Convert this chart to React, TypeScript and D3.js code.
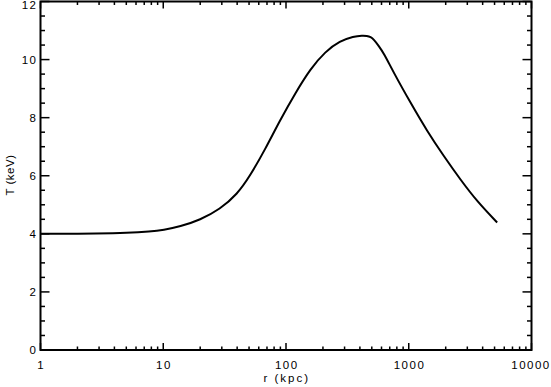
import React from "react";
import * as d3 from "d3";

const rKpc = [1, 3.16, 5, 7.9, 10, 13.7, 20, 29, 40, 51, 67.5, 89, 120, 158, 209, 275, 355, 420, 455, 490, 519, 570, 626, 756, 1034, 1414, 1932, 2642, 3611, 5250];
const tKeV = [4.0, 4.01, 4.03, 4.08, 4.13, 4.25, 4.48, 4.85, 5.36, 6.0, 6.9, 7.9, 8.87, 9.68, 10.28, 10.64, 10.8, 10.83, 10.82, 10.78, 10.69, 10.47, 10.22, 9.54, 8.51, 7.53, 6.67, 5.86, 5.11, 4.39];

const xMajor = [1, 10, 100, 1000, 10000];
const xLabels = ["1", "10", "100", "1000", "10000"];
const yMajor = [0, 2, 4, 6, 8, 10, 12];
const yLabels = ["0", "2", "4", "6", "8", "10", "12"];

const W = 551, H = 387;
const L = 40.5, R = 531.5, T = 1.5, B = 350;

export default function App() {
  const x = d3.scaleLog().domain([1, 10000]).range([L, R]);
  const y = d3.scaleLinear().domain([0, 12]).range([B, T]);
  const xMinor: number[] = [];
  for (let d = 1; d < 10000; d *= 10) for (let k = 2; k <= 9; k++) xMinor.push(d * k);
  const yMinor: number[] = [];
  for (let v = 0.5; v < 12; v += 0.5) if (v % 2 !== 0) yMinor.push(v);
  const line = d3.line<number>().x((_, i) => x(rKpc[i])).y((d) => y(d)).curve(d3.curveBasis);
  const font = "'Liberation Sans', Arial, Helvetica, sans-serif";
  const ls = 1.5;
  return (
    <svg width={W} height={H} style={{ display: "block", position: "absolute", left: 0, top: 0, background: "#fff" }}>
      <style>{`body{margin:0}`}</style>
      <g stroke="#000" strokeWidth={1.5}>
        {xMajor.map((v) => (
          <g key={"xM" + v}>
            <line x1={x(v)} x2={x(v)} y1={B} y2={B - 7} />
            <line x1={x(v)} x2={x(v)} y1={T} y2={T + 7} />
          </g>
        ))}
        {xMinor.map((v) => (
          <g key={"xm" + v}>
            <line x1={x(v)} x2={x(v)} y1={B} y2={B - 3.5} />
            <line x1={x(v)} x2={x(v)} y1={T} y2={T + 3.5} />
          </g>
        ))}
        {yMajor.map((v) => (
          <g key={"yM" + v}>
            <line x1={L} x2={L + 9} y1={y(v)} y2={y(v)} />
            <line x1={R} x2={R - 9} y1={y(v)} y2={y(v)} />
          </g>
        ))}
        {yMinor.map((v) => (
          <g key={"ym" + v}>
            <line x1={L} x2={L + 4.5} y1={y(v)} y2={y(v)} />
            <line x1={R} x2={R - 4.5} y1={y(v)} y2={y(v)} />
          </g>
        ))}
      </g>
      <rect x={L} y={T} width={R - L} height={B - T} fill="none" stroke="#000" strokeWidth={2} />
      <path d={line(tKeV) || ""} fill="none" stroke="#000" strokeWidth={2} strokeLinejoin="round" />
      <g fontFamily={font} fontSize={11.5} fill="#000">
        {xMajor.map((v, i) => (
          <text key={"xl" + v} x={Math.min(x(v) + ls / 2, W - 20)} y={368.5} textAnchor="middle" letterSpacing={ls}>{xLabels[i]}</text>
        ))}
        {yMajor.map((v, i) => (
          <text key={"yl" + v} x={36 + ls} y={Math.max(y(v) + 4, 9)} textAnchor="end" letterSpacing={ls}>{yLabels[i]}</text>
        ))}
        <text x={(L + R) / 2 + ls / 2} y={382} textAnchor="middle" letterSpacing={2}>r (kpc)</text>
        <text transform={`translate(14,175) rotate(-90)`} textAnchor="middle" letterSpacing={0.5}>T (keV)</text>
      </g>
    </svg>
  );
}
